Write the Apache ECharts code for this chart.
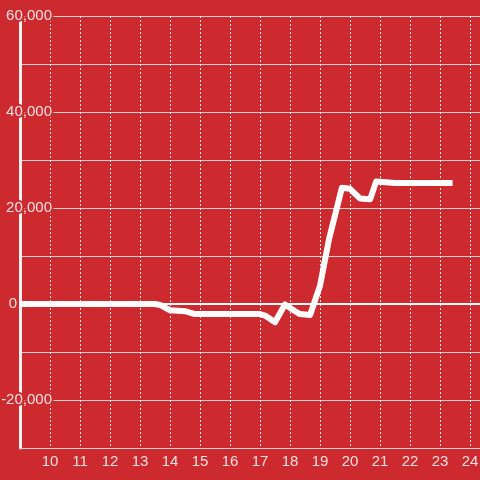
<!DOCTYPE html>
<html><head><meta charset="utf-8">
<script src="https://cdn.jsdelivr.net/npm/echarts@6/dist/echarts.min.js"></script>
<style>html,body{margin:0;padding:0;background:#cd2a2f;}#c{width:480px;height:480px;}</style>
</head><body><div id="c"></div>
<script>
var hours = [9, 13.5, 13.67, 14.0, 14.5, 14.83, 17.0, 17.17, 17.5, 17.83, 18.17, 18.33, 18.67, 19.0, 19.3, 19.73, 20.0, 20.33, 20.67, 20.87, 21.5, 23.42];
var values = [0, 0, -200, -1300, -1500, -2100, -2100, -2400, -3800, -100, -1500, -2100, -2300, 3800, 13500, 24200, 24000, 22000, 21800, 25500, 25200, 25200];
var yLabelValues = [60000, 40000, 20000, 0, -20000];
var bg = '#cd2a2f';
var data = hours.map(function (h, i) { return [h, values[i]]; });
var chart = echarts.init(document.getElementById('c'));
chart.setOption({
  backgroundColor: bg,
  animation: false,
  grid: { left: 20, right: 0, top: 16, bottom: 32, containLabel: false, outerBoundsMode: 'none' },
  xAxis: {
    type: 'value', min: 9, max: 24.3333, interval: 1,
    axisLine: { show: true, onZero: false, lineStyle: { color: '#d0d0d0', width: 1 } },
    axisTick: { show: false },
    axisLabel: {
      color: '#f0e0e0', fontSize: 15, fontFamily: 'Liberation Sans', margin: 6,
      showMinLabel: false, showMaxLabel: false,
      formatter: function (v) { return (Math.abs(v - Math.round(v)) < 1e-6 && v > 9.5) ? String(Math.round(v)) : ''; }
    },
    splitLine: { show: true, lineStyle: { color: '#e6e6e6', width: 1, type: [2, 2] } }
  },
  yAxis: {
    type: 'value', min: -30000, max: 60000, interval: 10000,
    axisLine: { show: true, lineStyle: { color: '#f2f2f2', width: 3 } },
    axisTick: { show: false },
    axisLabel: {
      margin: -32, align: 'right',
      formatter: function (v) {
        if (yLabelValues.indexOf(v) < 0) return '';
        if (v === 0) return '{b|0}{s|}';
        return '{b|' + echarts.format.addCommas(v) + '}';
      },
      rich: {
        b: { color: '#f0e0e0', fontSize: 15, fontFamily: 'Liberation Sans', textBorderColor: bg, textBorderWidth: 4 },
        s: { width: 35 }
      }
    },
    splitLine: { show: true, lineStyle: { color: '#d0d0d0', width: 1 } }
  },
  series: [{
    type: 'line', data: data, symbol: 'none', smooth: false,
    lineStyle: { color: '#ffffff', width: 6, join: 'round' },
    markLine: {
      silent: true, symbol: 'none', label: { show: false },
      lineStyle: { color: '#ffffff', width: 2, type: 'solid' },
      data: [{ yAxis: 0 }]
    }
  }]
});
</script></body></html>
